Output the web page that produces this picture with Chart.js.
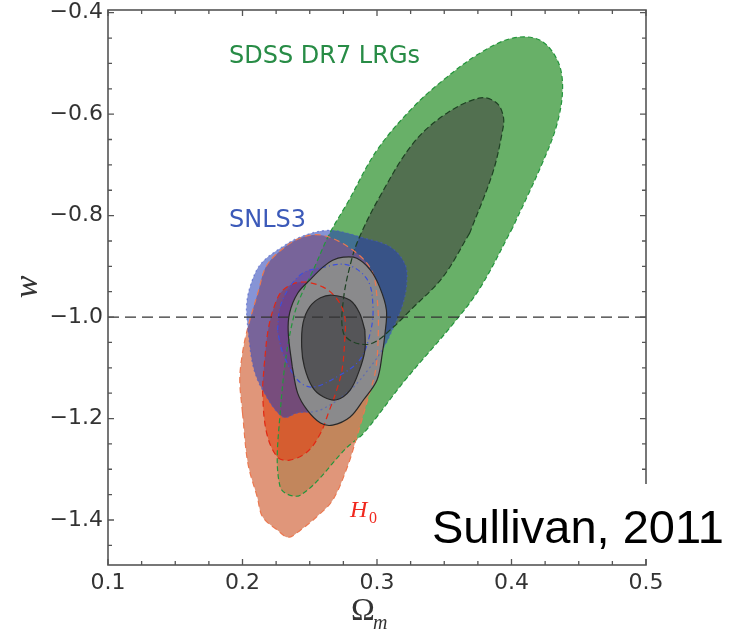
<!DOCTYPE html>
<html>
<head>
<meta charset="utf-8">
<style>
  html, body { margin: 0; padding: 0; background: #fff; }
  canvas { display: block; }
</style>
<script src="https://cdn.jsdelivr.net/npm/chart.js@4.4.1/dist/chart.umd.min.js"></script>
</head>
<body>
<canvas id="contours" width="738" height="631"></canvas>
<script>
// tick labels
var xTicks = [0.1, 0.2, 0.3, 0.4, 0.5];
var yTicks = [-1.4, -1.2, -1.0, -0.8, -0.6, -0.4];

// contours, points are [Omega_m, w]
var sdss95 = [[0.401,-0.450],[0.421,-0.454],[0.434,-0.493],[0.438,-0.546],[0.434,-0.618],[0.423,-0.696],
  [0.401,-0.823],[0.377,-0.941],[0.357,-1.012],[0.321,-1.124],[0.290,-1.229],[0.278,-1.256],[0.243,-1.351],
  [0.228,-1.335],[0.228,-1.189],[0.238,-1.000],[0.255,-0.893],[0.265,-0.834],[0.278,-0.775],[0.300,-0.671],
  [0.327,-0.586],[0.352,-0.527],[0.377,-0.479]];
var sdss68 = [[0.377,-0.568],[0.389,-0.578],[0.394,-0.606],[0.393,-0.637],[0.386,-0.716],[0.369,-0.834],
  [0.349,-0.921],[0.325,-0.986],[0.312,-1.020],[0.297,-1.051],[0.284,-1.051],[0.275,-1.031],[0.275,-0.966],
  [0.281,-0.888],[0.287,-0.842],[0.302,-0.763],[0.327,-0.657],[0.352,-0.598]];
var h095 = [[0.226,-0.874],[0.243,-0.844],[0.260,-0.839],[0.282,-0.868],[0.296,-0.908],[0.300,-0.961],
  [0.301,-1.025],[0.299,-1.104],[0.293,-1.163],[0.285,-1.236],[0.278,-1.295],[0.267,-1.361],[0.255,-1.394],
  [0.243,-1.420],[0.234,-1.434],[0.226,-1.420],[0.215,-1.394],[0.211,-1.355],[0.204,-1.288],[0.200,-1.189],
  [0.198,-1.124],[0.200,-1.071],[0.204,-1.020],[0.212,-0.947],[0.217,-0.903]];
var h068 = [[0.230,-0.947],[0.243,-0.931],[0.260,-0.941],[0.271,-0.967],[0.276,-1.000],[0.276,-1.045],
  [0.274,-1.104],[0.270,-1.144],[0.264,-1.188],[0.258,-1.229],[0.248,-1.266],[0.235,-1.282],[0.226,-1.276],
  [0.218,-1.229],[0.215,-1.150],[0.216,-1.098],[0.219,-1.026],[0.224,-0.976]];
var snls95 = [[0.265,-0.829],[0.290,-0.844],[0.310,-0.862],[0.321,-0.897],[0.322,-0.937],[0.319,-0.976],
  [0.313,-1.016],[0.306,-1.055],[0.296,-1.095],[0.280,-1.144],[0.258,-1.183],[0.241,-1.189],[0.230,-1.197],
  [0.215,-1.144],[0.208,-1.098],[0.204,-1.026],[0.203,-0.976],[0.206,-0.937],[0.213,-0.897],[0.226,-0.868],
  [0.243,-0.842]];
var snls68 = [[0.245,-0.913],[0.258,-0.903],[0.278,-0.897],[0.293,-0.927],[0.297,-0.980],[0.295,-1.031],
  [0.287,-1.085],[0.270,-1.118],[0.252,-1.138],[0.241,-1.124],[0.230,-1.071],[0.226,-1.026],[0.228,-0.980],
  [0.235,-0.941]];
var all95 = [[0.275,-0.882],[0.285,-0.884],[0.295,-0.907],[0.302,-0.941],[0.307,-0.986],[0.306,-1.031],
  [0.304,-1.071],[0.300,-1.124],[0.290,-1.163],[0.280,-1.197],[0.267,-1.213],[0.258,-1.209],[0.248,-1.183],
  [0.241,-1.150],[0.237,-1.098],[0.234,-1.031],[0.235,-0.992],[0.241,-0.953],[0.250,-0.927],[0.260,-0.901],
  [0.267,-0.888]];
var all68 = [[0.267,-0.957],[0.280,-0.967],[0.287,-0.992],[0.291,-1.026],[0.291,-1.065],[0.287,-1.104],
  [0.280,-1.144],[0.270,-1.163],[0.260,-1.157],[0.252,-1.138],[0.246,-1.098],[0.244,-1.059],[0.245,-1.012],
  [0.250,-0.980],[0.258,-0.962]];
var wRef = -1.0;

// close the ring, starting on a straight stretch so the seam of the spline doesn't show
function ring(a, k) {
  var r = a.slice(k).concat(a.slice(0, k));
  r.push(r[0]);
  return r.map(function (p) { return { x: p[0], y: p[1] }; });
}

// bottom to top
var layers = [
  { d: sdss95, k: 6, fill: 'rgb(104,176,104)', edge: 'rgb(35,150,60)', dash: [5, 3] },
  { d: sdss68, k: 5, fill: 'rgb(82,112,80)', edge: 'rgb(30,65,35)', dash: [6, 3] },
  { d: h095, k: 19, fill: 'rgba(216,124,89,0.8)', edge: 'rgb(235,120,80)', dash: [6, 4] },
  { d: h068, k: 15, fill: 'rgba(225,67,18,0.6)', edge: 'rgb(225,40,20)', dash: [6, 4] },
  { d: snls95, k: 15, fill: 'rgba(35,60,180,0.55)', edge: 'rgba(70,90,200,0.6)', dash: [2, 3] },
  { d: snls68, k: 11, fill: 'rgba(90,50,170,0.3)', edge: 'rgb(60,80,220)', dash: [5, 3, 1, 3] },
  { d: all95, k: 14, fill: 'rgb(138,138,140)', edge: 'rgb(40,40,40)', dash: [] },
  { d: all68, k: 3, fill: 'rgb(85,85,88)', edge: 'rgb(40,40,40)', dash: [] }
];

var datasets = [];
layers.forEach(function (l, i) {
  datasets.push({ data: ring(l.d, l.k), showLine: true, fill: 'shape', backgroundColor: l.fill,
    borderWidth: 0, pointRadius: 0, tension: 0.35, order: 100 - i });
});
layers.forEach(function (l, i) {
  datasets.push({ data: ring(l.d, l.k), showLine: true, fill: false, borderColor: l.edge,
    borderWidth: 1.2, borderDash: l.dash, pointRadius: 0, tension: 0.35, order: 50 - i });
});
datasets.push({
  data: [{ x: xTicks[0], y: wRef }, { x: xTicks[xTicks.length - 1], y: wRef }],
  showLine: true, fill: false, borderColor: '#333', borderWidth: 1.3, borderDash: [11, 6],
  pointRadius: 0, order: 0
});

var frame = {
  id: 'frame',
  afterDatasetsDraw: function (chart) {
    var ctx = chart.ctx, a = chart.chartArea, x = chart.scales.x, y = chart.scales.y;
    ctx.save();
    ctx.strokeStyle = '#555';
    ctx.lineWidth = 1.3;
    ctx.beginPath();
    var i, v, p, len;
    for (i = 0; i <= 16; i++) {
      v = 0.1 + i * 0.025;
      p = x.getPixelForValue(v);
      len = i % 4 === 0 ? 6 : 4;
      ctx.moveTo(p, a.bottom); ctx.lineTo(p, a.bottom - len);
      ctx.moveTo(p, a.top); ctx.lineTo(p, a.top + len);
    }
    for (i = 0; i <= 21; i++) {
      v = -1.45 + i * 0.05;
      p = y.getPixelForValue(v);
      len = i % 4 === 1 ? 6 : 4;
      ctx.moveTo(a.left, p); ctx.lineTo(a.left + len, p);
      ctx.moveTo(a.right, p); ctx.lineTo(a.right - len, p);
    }
    ctx.stroke();
    ctx.lineWidth = 1.6;
    ctx.strokeRect(a.left, a.top, a.right - a.left, a.bottom - a.top);
    ctx.restore();
  },
  afterDraw: function (chart) {
    var ctx = chart.ctx;
    ctx.save();
    ctx.textBaseline = 'alphabetic';
    ctx.textAlign = 'left';

    ctx.fillStyle = 'rgb(40,140,70)';
    ctx.font = '24px "DejaVu Sans"';
    ctx.fillText('SDSS DR7 LRGs', 229, 63);
    ctx.fillStyle = 'rgb(60,90,185)';
    ctx.fillText('SNLS3', 229, 227);

    ctx.fillStyle = 'rgb(240,40,30)';
    ctx.font = 'italic 24px "Liberation Serif"';
    ctx.fillText('H', 350, 517);
    ctx.font = '16px "Liberation Serif"';
    ctx.fillText('0', 369, 523);

    // axis titles
    ctx.fillStyle = '#333';
    ctx.font = '32px "Liberation Serif"';
    ctx.fillText('\u03A9', 351, 620);
    ctx.font = 'italic 20px "Liberation Serif"';
    ctx.fillText('m', 373, 629);
    ctx.save();
    ctx.translate(37, 287);
    ctx.rotate(-Math.PI / 2);
    ctx.textAlign = 'center';
    ctx.font = 'italic 34px "Liberation Serif"';
    ctx.fillText('w', 0, 0);
    ctx.restore();

    // caption box
    ctx.fillStyle = '#fff';
    ctx.fillRect(425, 484, 313, 75);
    ctx.fillStyle = '#000';
    ctx.font = '47px "Liberation Sans"';
    ctx.fillText('Sullivan, 2011', 432, 543);
    ctx.restore();
  }
};

function tickFont() { return { family: 'DejaVu Sans', size: 22 }; }

new Chart(document.getElementById('contours').getContext('2d'), {
  type: 'scatter',
  data: { datasets: datasets },
  options: {
    responsive: false,
    animation: false,
    events: [],
    layout: { padding: { left: 0, top: 10, right: 92, bottom: 0 } },
    plugins: { legend: { display: false }, tooltip: { enabled: false } },
    scales: {
      x: {
        type: 'linear', min: 0.1, max: 0.5,
        grid: { display: false, drawTicks: false },
        border: { display: false },
        afterBuildTicks: function (s) { s.ticks = xTicks.map(function (v) { return { value: v }; }); },
        afterFit: function (s) { s.height = 66; s.paddingLeft = 0; s.paddingRight = 0; },
        ticks: { padding: 5, color: '#333', font: tickFont(), maxRotation: 0, autoSkip: false,
          callback: function (v) { return v.toFixed(1); } }
      },
      y: {
        type: 'linear', min: -1.4887, max: -0.3947,
        grid: { display: false, drawTicks: false },
        border: { display: false },
        afterBuildTicks: function (s) { s.ticks = yTicks.map(function (v) { return { value: v }; }); },
        afterFit: function (s) { s.width = 108; s.paddingTop = 0; s.paddingBottom = 0; },
        ticks: { padding: 5, color: '#333', font: tickFont(), autoSkip: false,
          callback: function (v) { return (v < 0 ? '\u2212' : '') + Math.abs(v).toFixed(1); } }
      }
    }
  },
  plugins: [frame]
});
</script>
</body>
</html>
